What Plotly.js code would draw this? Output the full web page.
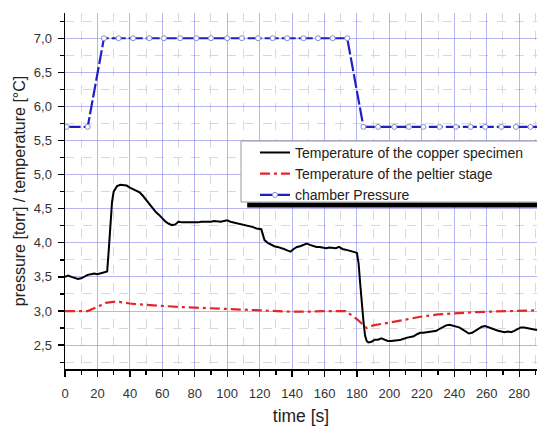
<!DOCTYPE html>
<html>
<head>
<meta charset="utf-8">
<script src="https://cdn.plot.ly/plotly-3.0.1.min.js"></script>
<style>html,body{margin:0;padding:0;background:#fff;}#chart{width:537px;height:426px;}</style>
</head>
<body>
<div id="chart"></div>
<script>
// time [s] and values
var tCopper = [0,2,4,6,8,10,12,14,16,18,20,22,24,26,27,28,29,30,32,34,36,38,40,42,44,46,48,50,52,54,56,58,60,62,64,66,68,70,72,74,76,78,80,82,84,86,88,90,92,94,96,98,100,102,104,106,108,110,112,114,116,118,120,121,122,123,125,127,129,131,133,135,137,139,141,143,145,147,149,151,153,155,157,159,161,163,165,167,169,171,173,175,177,179,180,181,182,183,184,185,186,187,189,191,193,195,197,199,201,203,205,207,209,211,213,215,217,219,221,223,225,227,229,231,233,235,237,239,241,243,245,247,249,251,253,255,257,259,261,263,265,267,269,271,273,275,277,279,281,283,285,287,289,291];
var vCopper = [3.50,3.52,3.50,3.49,3.47,3.48,3.51,3.53,3.54,3.55,3.54,3.55,3.56,3.58,3.90,4.30,4.60,4.75,4.83,4.85,4.85,4.84,4.81,4.79,4.77,4.74,4.69,4.63,4.56,4.50,4.45,4.41,4.36,4.31,4.28,4.26,4.27,4.31,4.30,4.30,4.29,4.30,4.29,4.30,4.31,4.31,4.30,4.31,4.32,4.31,4.31,4.32,4.33,4.31,4.30,4.29,4.28,4.27,4.25,4.24,4.23,4.21,4.21,4.20,4.12,4.04,4.00,3.97,3.95,3.94,3.93,3.91,3.89,3.87,3.91,3.94,3.95,3.97,3.99,3.97,3.95,3.94,3.94,3.93,3.92,3.93,3.92,3.92,3.94,3.91,3.90,3.89,3.88,3.86,3.85,3.70,3.40,3.10,2.85,2.64,2.56,2.54,2.55,2.58,2.58,2.60,2.58,2.56,2.56,2.56,2.57,2.58,2.60,2.61,2.62,2.63,2.66,2.68,2.68,2.69,2.70,2.70,2.71,2.74,2.77,2.79,2.80,2.79,2.78,2.76,2.73,2.70,2.67,2.68,2.71,2.74,2.77,2.78,2.76,2.74,2.73,2.71,2.70,2.69,2.70,2.69,2.71,2.74,2.76,2.76,2.75,2.74,2.73,2.72];

var tPeltier = [0,14,20,25,32,40,50,60,70,80,90,100,110,120,130,140,150,160,173,180,186,190,200,210,220,230,240,250,260,270,280,291];
var vPeltier = [3.00,3.00,3.06,3.12,3.14,3.11,3.09,3.07,3.06,3.05,3.04,3.02,3.01,3.00,3.00,2.99,2.99,3.00,3.00,2.88,2.75,2.79,2.83,2.88,2.92,2.95,2.97,2.98,2.99,3.00,3.00,3.01];

var tPressure = [1,14,24,33,42,52,61,71,81,90,100,109,119,128,137,147,156,165,174,184,193,203,212,221,231,241,250,259,269,278,287,296];
var vPressure = [5.7,5.7,7.0,7.0,7.0,7.0,7.0,7.0,7.0,7.0,7.0,7.0,7.0,7.0,7.0,7.0,7.0,7.0,7.0,5.7,5.7,5.7,5.7,5.7,5.7,5.7,5.7,5.7,5.7,5.7,5.7,5.7];

var seriesNames = ["Temperature of the copper specimen","Temperature of the peltier stage","chamber Pressure"];

var FONT = "Arial, 'Liberation Sans', sans-serif";

var traces = [
  {x: tCopper, y: vCopper, name: seriesNames[0], mode: "lines", type: "scatter",
   line: {color: "#000000", width: 2}},
  {x: tPeltier, y: vPeltier, name: seriesNames[1], mode: "lines", type: "scatter",
   line: {color: "#e3262a", width: 2.2, dash: "10px,4px,3px,4px"}},
  {x: tPressure, y: vPressure, name: seriesNames[2], mode: "lines+markers", type: "scatter",
   line: {color: "#1f1fc4", width: 2.2, dash: "14px,3px"},
   marker: {symbol: "circle", size: 5, color: "#ffffff", line: {color: "#8a8ad8", width: 1}}}
];

var layout = {
  width: 537, height: 426,
  margin: {l: 65, r: 0, t: 13, b: 57, autoexpand: false},
  paper_bgcolor: "#ffffff", plot_bgcolor: "#ffffff",
  separators: ", ",
  font: {family: FONT, size: 13, color: "#333333"},
  showlegend: true,
  legend: {
    x: 0.4025, y: 0.652, xanchor: "left", yanchor: "top",
    bgcolor: "rgba(0,0,0,0)", borderwidth: 0,
    font: {family: FONT, size: 14, color: "#222222"},
    tracegroupgap: 0, itemwidth: 30
  },
  xaxis: {
    range: [0, 291], showline: true, linecolor: "#000", linewidth: 1.5, mirror: false,
    ticks: "outside", ticklen: 6, tickwidth: 1.3, tickcolor: "#000",
    dtick: 20, tick0: 0, ticklabelstandoff: 6,
    showgrid: true, gridcolor: "rgba(110,110,225,0.5)", gridwidth: 1,
    zeroline: false,
    minor: {dtick: 10, ticks: "outside", ticklen: 4, tickcolor: "#000", showgrid: true, gridcolor: "#d8d8d8", griddash: "dash", gridwidth: 1},
    tickfont: {family: FONT, size: 13, color: "#333"},
    title: {text: "time [s]", font: {family: FONT, size: 17.5, color: "#222"}, standoff: 12}
  },
  yaxis: {
    range: [2.15, 7.37], showline: true, linecolor: "#000", linewidth: 1.5, mirror: false,
    ticks: "outside", ticklen: 6, tickwidth: 1.3, tickcolor: "#000",
    dtick: 0.5, tick0: 0, tickformat: ".1f", ticklabelstandoff: 3,
    showgrid: true, gridcolor: "rgba(110,110,225,0.5)", gridwidth: 1,
    zeroline: false,
    minor: {dtick: 0.25, ticks: "outside", ticklen: 4, tickcolor: "#000", showgrid: true, gridcolor: "#d8d8d8", griddash: "dash", gridwidth: 1},
    tickfont: {family: FONT, size: 13, color: "#333"},
    title: {text: "pressure [torr] / temperature [°C]", font: {family: FONT, size: 16, color: "#222"}, standoff: 4}
  },
  shapes: [
    {type: "rect", xref: "paper", yref: "paper", x0: 0.386, x1: 1.2, y0: 0.4537, y1: 0.4677,
     fillcolor: "#000000", line: {width: 0}, layer: "above"},
    {type: "rect", xref: "paper", yref: "paper", x0: 0.3729, x1: 1.2, y0: 0.4691, y1: 0.6404,
     fillcolor: "#ffffff", line: {color: "#9a9a9a", width: 1}, layer: "above"}
  ]
};

Plotly.newPlot("chart", traces, layout, {displayModeBar: false, staticPlot: true});
</script>
</body>
</html>
